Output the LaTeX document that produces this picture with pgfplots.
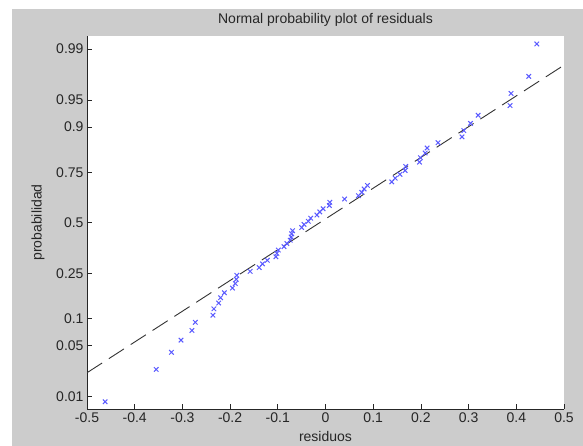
\documentclass[border=0pt]{standalone}
\usepackage{fontspec}
\setmainfont{Liberation Sans}
\usepackage{pgfplots}
\pgfplotsset{compat=1.18}
\definecolor{figgray}{RGB}{204,204,204}
\definecolor{markblue}{RGB}{90,90,255}
\definecolor{axcol}{RGB}{38,38,38}
\pgfplotstableread{
x y
-0.462 -2.3940
-0.355 -1.9600
-0.323 -1.7317
-0.303 -1.5689
-0.280 -1.4395
-0.273 -1.3303
-0.236 -1.2349
-0.234 -1.1503
-0.224 -1.0727
-0.220 -1.0014
-0.212 -0.9346
-0.195 -0.8718
-0.189 -0.8122
-0.187 -0.7554
-0.186 -0.7010
-0.158 -0.6488
-0.139 -0.5978
-0.132 -0.5485
-0.122 -0.5005
-0.104 -0.4538
-0.102 -0.4081
-0.099 -0.3633
-0.087 -0.3186
-0.081 -0.2752
-0.074 -0.2320
-0.072 -0.1891
-0.071 -0.1468
-0.069 -0.1046
-0.050 -0.0627
-0.045 -0.0209
-0.036 0.0209
-0.031 0.0627
-0.018 0.1046
-0.012 0.1468
-0.005 0.1891
0.008 0.2320
0.009 0.2752
0.040 0.3186
0.069 0.3633
0.076 0.4081
0.081 0.4538
0.088 0.5005
0.139 0.5485
0.146 0.5978
0.156 0.6488
0.167 0.7010
0.168 0.7554
0.197 0.8122
0.199 0.8718
0.209 0.9346
0.213 1.0014
0.236 1.0727
0.286 1.1503
0.290 1.2349
0.304 1.3303
0.320 1.4395
0.387 1.5689
0.389 1.7317
0.426 1.9600
0.443 2.3940
}\residuals
\begin{document}
\begin{tikzpicture}[x=1pt,y=1pt]
\useasboundingbox (0,0) rectangle (583,446);
\fill[white] (0,0) rectangle (583,446);
\fill[figgray] (12,0) rectangle (583,437);
\begin{axis}[
  at={(87pt,37pt)}, anchor=south west,
  width=477pt, height=373pt, scale only axis,
  xmin=-0.5, xmax=0.5, ymin=-2.49, ymax=2.50,
  axis x line*=bottom, axis y line*=left,
  axis line style={-, axcol, line width=0.8pt},
  axis background/.style={fill=white},
  tick align=inside, major tick length=5pt,
  tick style={axcol, line width=0.8pt},
  xtick={-0.5,-0.4,-0.3,-0.2,-0.1,0,0.1,0.2,0.3,0.4,0.5},
  xticklabels={-0.5,-0.4,-0.3,-0.2,-0.1,0,0.1,0.2,0.3,0.4,0.5},
  ytick={-2.3263,-1.6449,-1.2816,-0.6745,0,0.6745,1.2816,1.6449,2.3263},
  yticklabels={0.01,0.05,0.1,0.25,0.5,0.75,0.9,0.95,0.99},
  ticklabel style={font=\fontsize{14}{16}\selectfont, text=axcol},
  label style={font=\fontsize{14}{16}\selectfont, text=axcol},
  title style={font=\fontsize{14}{16}\selectfont, text=axcol, at={(axis description cs:0.5,1.028)}, anchor=center},
  title={Normal probability plot of residuals},
  xlabel={residuos}, ylabel={probabilidad},
  xlabel style={at={(axis description cs:0.5,-0.074)}, anchor=center},
  ylabel style={at={(axis description cs:-0.1027,0.5)}, anchor=center},
]
\addplot[only marks, mark=x, mark size=3.2pt, markblue, mark options={line width=1pt}] table[x=x,y=y] {\residuals};
\addplot[black!80, dash pattern=on 18pt off 8pt, line width=0.9pt] coordinates {(-0.5,-2.005) (0.5,2.11)};
\end{axis}
\end{tikzpicture}
\end{document}
